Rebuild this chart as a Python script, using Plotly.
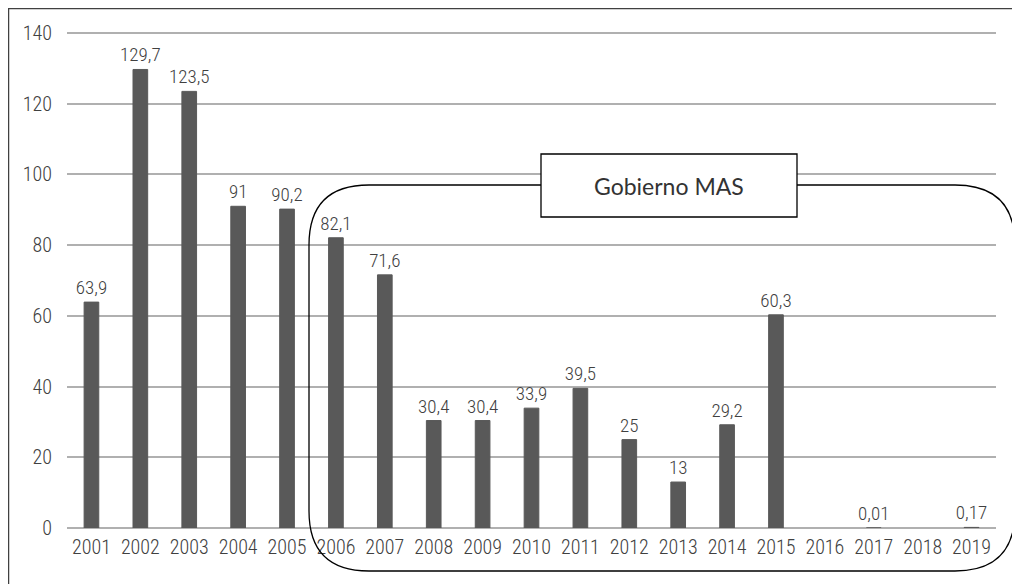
import plotly.graph_objects as go

years = [str(y) for y in range(2001, 2020)]
values = [63.9, 129.7, 123.5, 91, 90.2, 82.1, 71.6, 30.4, 30.4, 33.9, 39.5, 25, 13, 29.2, 60.3, 0, 0.01, 0, 0.17]
labels = ["63,9", "129,7", "123,5", "91", "90,2", "82,1", "71,6", "30,4", "30,4", "33,9",
          "39,5", "25", "13", "29,2", "60,3", "", "0,01", "", "0,17"]
y_ticks = [0, 20, 40, 60, 80, 100, 120, 140]
box_label = "Gobierno MAS"

# page has an 8px body margin; work in screen pixels and offset
OFF = 8
W, H = 1020 - OFF, 584 - OFF
SL, SR, ST, SB = 67, 996, 32, 528  # plot area in screen px
ML, MR, MT, MB = SL - OFF, (W + OFF) - SR, ST - OFF, (H + OFF) - SB
PW, PH = SR - SL, SB - ST

def px(x):
    return (x - SL) / PW

def py(y):
    return (SB - y) / PH

FONT = "Roboto Condensed, Liberation Sans Narrow, DejaVu Sans Condensed, sans-serif"
TXT = "#404040"
BAR = "#595959"
GRID = "#b0b0b0"

fig = go.Figure()
fig.add_trace(go.Bar(
    x=years, y=values, text=labels, textposition="outside", constraintext="none",
    textfont=dict(family=FONT, size=19, color=TXT, weight=300),
    marker=dict(color=BAR, line=dict(color=BAR, width=[1 if v > 0 else 0 for v in values])),
    width=0.3, cliponaxis=False, hoverinfo="skip",
))

# rounded rectangle (Gobierno MAS period)
x0, x1, y0, y1, r = 309, 1015, 185, 571, 60
path = (
    f"M {px(x0+r)} {py(y0)} L {px(x1-r)} {py(y0)} "
    f"Q {px(x1)} {py(y0)} {px(x1)} {py(y0+r)} "
    f"L {px(x1)} {py(y1-r)} "
    f"Q {px(x1)} {py(y1)} {px(x1-r)} {py(y1)} "
    f"L {px(x0+r)} {py(y1)} "
    f"Q {px(x0)} {py(y1)} {px(x0)} {py(y1-r)} "
    f"L {px(x0)} {py(y0+r)} "
    f"Q {px(x0)} {py(y0)} {px(x0+r)} {py(y0)} Z"
)
shapes = [
    dict(type="rect", xref="paper", yref="paper",
         x0=px(8.5), x1=px(1030), y0=py(8.5), y1=py(600),
         line=dict(color="#404040", width=1.5), layer="above"),
    dict(type="path", xref="paper", yref="paper", path=path,
         line=dict(color="#000000", width=1.3), layer="above"),
    dict(type="rect", xref="paper", yref="paper",
         x0=px(541), x1=px(797), y0=py(154), y1=py(217),
         line=dict(color="#000000", width=1.3), fillcolor="white", layer="above"),
]

fig.update_layout(
    width=W, height=H,
    margin=dict(l=ML, r=MR, t=MT, b=MB, autoexpand=False),
    paper_bgcolor="white", plot_bgcolor="white",
    showlegend=False,
    shapes=shapes,
    annotations=[dict(xref="paper", yref="paper", x=px(669), y=py(185.5),
                      text=box_label, showarrow=False,
                      font=dict(family="Lato, Noto Sans, sans-serif", size=23, color="#333333"),
                      xanchor="center", yanchor="middle")],
    xaxis=dict(type="category", showgrid=False, showline=False, ticks="",
               ticklabelstandoff=5,
               tickfont=dict(family=FONT, size=20, color=TXT, weight=300)),
    yaxis=dict(range=[0, 140.3], tickvals=y_ticks, showgrid=True, gridcolor=GRID,
               gridwidth=1.5, zeroline=True, zerolinecolor=GRID, zerolinewidth=1.5,
               showline=False, ticks="", ticklen=0, ticklabelstandoff=14,
               tickfont=dict(family=FONT, size=20, color=TXT, weight=300)),
)

fig.write_html("out.html")
